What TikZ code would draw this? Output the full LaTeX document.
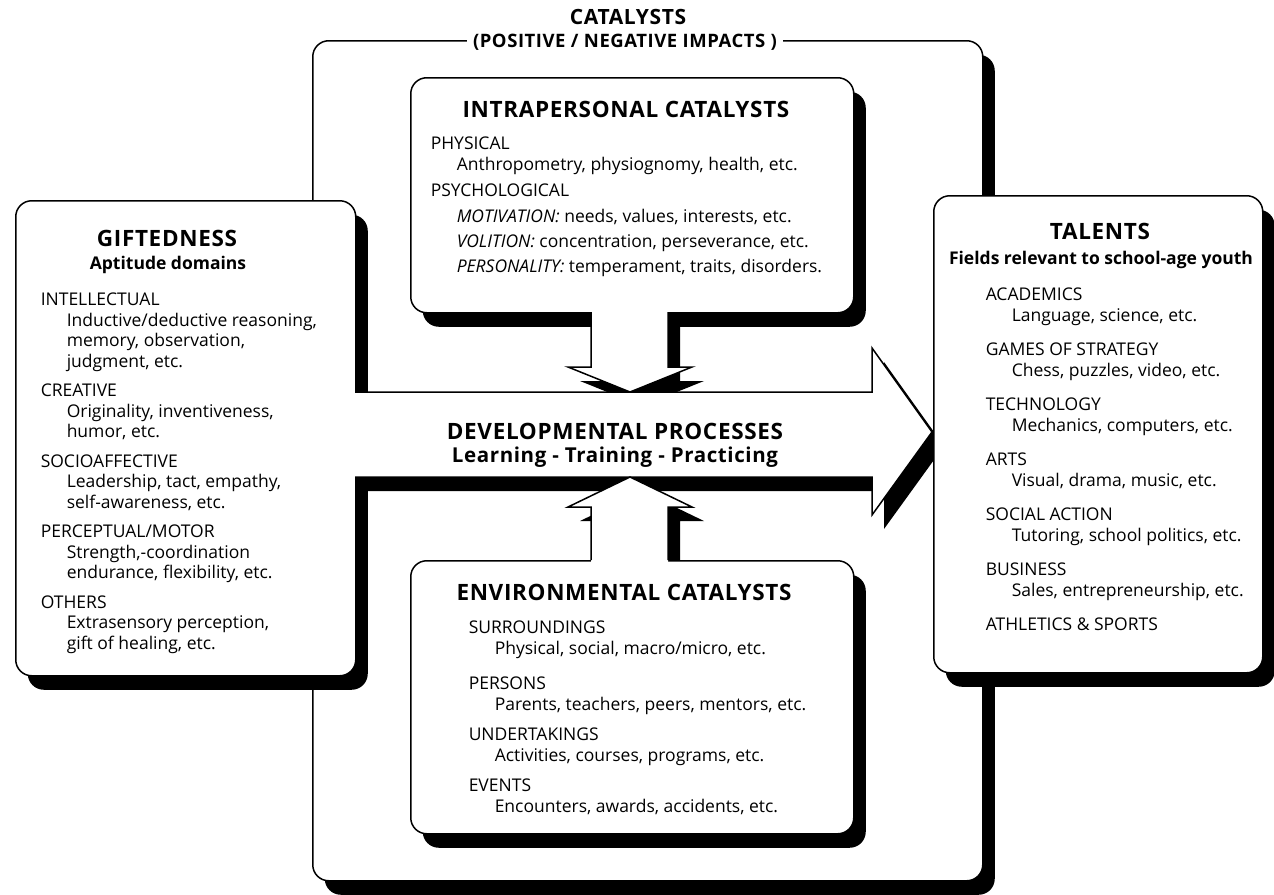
\documentclass[tikz,border=0pt]{standalone}
\usepackage{fontspec}
\setmainfont{Open Sans}
\newfontfamily\headfont[LetterSpace=3]{Open Sans}
\usepackage{tikz}
\usetikzlibrary{shadows}

\newcommand{\ind}{\hspace*{26pt}}

\begin{document}
\begin{tikzpicture}[
    x=1pt, y=-1pt,
    line width=1.5pt,
    box/.style={draw, fill=white, rounded corners=16pt, inner sep=0pt, anchor=north west,
        drop shadow={shadow xshift=12pt, shadow yshift=-14pt, fill=black, opacity=1}},
    title/.style={font=\fontsize{22.5}{24}\headfont\bfseries, anchor=base, inner sep=0pt},
    subtitle/.style={font=\fontsize{17.5}{20}\selectfont\bfseries, anchor=base, inner sep=0pt},
    body/.style={font=\fontsize{17.5}{20.5}\selectfont, align=left, anchor=north west, inner sep=0pt},
    shade/.style={fill=black},
    flow/.style={fill=white}
]
\useasboundingbox[fill=white] (0,0) rectangle (1274,894);

% outer frame
\node[box, minimum width=670pt, minimum height=840pt] (frame) at (312,40) {};
\node[fill=white, inner xsep=6pt, inner ysep=1pt, font=\fontsize{18.5}{20}\headfont\bfseries] (impacts) at (625,42) {(POSITIVE / NEGATIVE IMPACTS )};
\node[font=\fontsize{21}{22}\headfont\bfseries] (catalysts) at (628,17) {CATALYSTS};

% shadows of the block arrows
\fill[shade] (300,406) -- (884,406) -- (884,362) -- (944,446) -- (884,529) -- (884,491) -- (300,491) -- cycle;
\fill[shade] (603,319) -- (603,381) -- (580,381) -- (642,406) -- (704,381) -- (680,381) -- (680,319) -- cycle;
\fill[shade] (603,579) -- (603,521) -- (580,521) -- (642,491) -- (704,521) -- (680,521) -- (680,579) -- cycle;

% boxes
\node[box, minimum width=443pt, minimum height=235pt] (intra) at (410,77) {};
\node[box, minimum width=443pt, minimum height=273pt] (envir) at (410,560) {};
\node[box, minimum width=340pt, minimum height=475pt] (gift) at (15,200) {};

% developmental processes
\fill[flow] (350,392) -- (872,392) -- (872,348) -- (932,432) -- (872,515) -- (872,477) -- (350,477) -- cycle;
\draw (355,392) -- (872,392) -- (872,348) -- (932,432) -- (872,515) -- (872,477) -- (355,477);
\fill[flow] (591,300) -- (591,367) -- (568,367) -- (630,392) -- (692,367) -- (668,367) -- (668,300) -- cycle;
\draw (591,312) -- (591,367) -- (568,367) -- (630,392) -- (692,367) -- (668,367) -- (668,312);
\fill[flow] (591,570) -- (591,507) -- (568,507) -- (630,477) -- (692,507) -- (668,507) -- (668,570) -- cycle;
\draw (591,560) -- (591,507) -- (568,507) -- (630,477) -- (692,507) -- (668,507) -- (668,560);

\node[box, minimum width=329pt, minimum height=477pt] (talent) at (933,195) {};

% texts
\node[title] (devtitle) at (615,439) {DEVELOPMENTAL PROCESSES};
\node[title, font=\fontsize{20.5}{24}\headfont\bfseries] (devsub) at (615,462) {Learning - Training - Practicing};

\node[title] (intratitle) at (626,117) {INTRAPERSONAL CATALYSTS};
\node[body] (intralist) at (430,136.5) {PHYSICAL\\
\ind Anthropometry, physiognomy, health, etc.\\[6pt]
PSYCHOLOGICAL\\[5pt]
\ind\textit{MOTIVATION:} needs, values, interests, etc.\\[5pt]
\ind\textit{VOLITION:} concentration, perseverance, etc.\\[4pt]
\ind\textit{PERSONALITY:} temperament, traits, disorders.};

\node[title] (envirtitle) at (624,600) {ENVIRONMENTAL CATALYSTS};
\node[body] (envirlist) at (468,620.5) {SURROUNDINGS\\
\ind Physical, social, macro/micro, etc.\\[15pt]
PERSONS\\
\ind Parents, teachers, peers, mentors, etc.\\[10pt]
UNDERTAKINGS\\
\ind Activities, courses, programs, etc.\\[10pt]
EVENTS\\
\ind Encounters, awards, accidents, etc.};

\node[title] (gifttitle) at (167,246) {GIFTEDNESS};
\node[subtitle] (giftsub) at (168,269) {Aptitude domains};
\node[body] (giftlist) at (40,292.5) {INTELLECTUAL\\
\ind Inductive/deductive reasoning,\\
\ind memory, observation,\\
\ind judgment, etc.\\[9pt]
CREATIVE\\
\ind Originality, inventiveness,\\
\ind humor, etc.\\[9pt]
SOCIOAFFECTIVE\\
\ind Leadership, tact, empathy,\\
\ind self-awareness, etc.\\[9pt]
PERCEPTUAL/MOTOR\\
\ind Strength,-coordination\\
\ind endurance, flexibility, etc.\\[9pt]
OTHERS\\
\ind Extrasensory perception,\\
\ind gift of healing, etc.};

\node[title] (talenttitle) at (1100,239) {TALENTS};
\node[subtitle] (talentsub) at (1101,264) {Fields relevant to school-age youth};
\node[body] (talentlist) at (985,287.5) {ACADEMICS\\
\ind Language, science, etc.\\[14pt]
GAMES OF STRATEGY\\
\ind Chess, puzzles, video, etc.\\[14pt]
TECHNOLOGY\\
\ind Mechanics, computers, etc.\\[14pt]
ARTS\\
\ind Visual, drama, music, etc.\\[14pt]
SOCIAL ACTION\\
\ind Tutoring, school politics, etc.\\[14pt]
BUSINESS\\
\ind Sales, entrepreneurship, etc.\\[14pt]
ATHLETICS \& SPORTS};
\end{tikzpicture}
\end{document}
